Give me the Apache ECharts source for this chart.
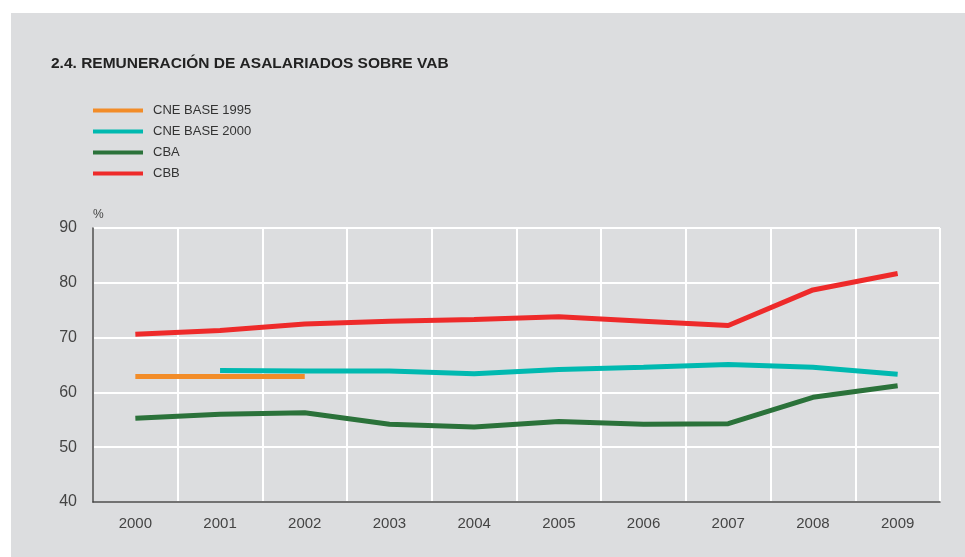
<!DOCTYPE html>
<html>
<head>
<meta charset="utf-8">
<script src="https://cdn.jsdelivr.net/npm/echarts@6/dist/echarts.min.js"></script>
<style>
body { margin: 0; background: #fff; }
#bg { position: absolute; left: 11px; top: 13px; right: 0; bottom: 0; background: #dcdddf; }
#chart { position: absolute; left: 0; top: 0; width: 965px; height: 557px; }
</style>
</head>
<body>
<div id="bg"></div>
<div id="chart"></div>
<script>
// años
var years = ['2000', '2001', '2002', '2003', '2004', '2005', '2006', '2007', '2008', '2009'];
// % remuneración sobre VAB
var cne1995 = [62.9, 62.9, 62.9, null, null, null, null, null, null, null];
var cne2000 = [null, 64.0, 63.9, 63.9, 63.4, 64.2, 64.6, 65.1, 64.6, 63.3];
var cba = [55.3, 56.0, 56.3, 54.2, 53.7, 54.7, 54.2, 54.3, 59.1, 61.2];
var cbb = [70.6, 71.3, 72.5, 73.0, 73.3, 73.8, 73.0, 72.2, 78.7, 81.7];

var myChart = echarts.init(document.getElementById('chart'));
var font = 'Liberation Sans, Arial, sans-serif';

function line(name, data, color) {
  return {
    name: name,
    type: 'line',
    data: data,
    symbol: 'none',
    connectNulls: false,
    color: color,
    lineStyle: { width: 5, color: color, cap: 'butt' }
  };
}

var option = {
  animation: false,
  textStyle: { fontFamily: font },
  title: {
    text: '2.4. REMUNERACIÓN DE ASALARIADOS SOBRE VAB',
    left: 46,
    top: 51,
    textStyle: { fontSize: 15.5, fontWeight: 'bold', color: '#222', fontFamily: font }
  },
  legend: {
    orient: 'vertical',
    left: 88,
    top: 99,
    icon: 'rect',
    itemWidth: 50,
    itemHeight: 4,
    itemGap: 8,
    textStyle: { fontSize: 13, color: '#333', fontFamily: font, padding: [0, 0, 0, 5] },
    data: ['CNE BASE 1995', 'CNE BASE 2000', 'CBA', 'CBB']
  },
  grid: { left: 93, right: 25, top: 228, bottom: 55 },
  xAxis: {
    type: 'category',
    data: years,
    boundaryGap: true,
    axisLine: { lineStyle: { color: '#444', width: 1.5 } },
    axisTick: { show: false },
    axisLabel: { fontSize: 15, color: '#444', margin: 14 },
    splitLine: { show: true, interval: 0, lineStyle: { color: '#fff', width: 2 } }
  },
  yAxis: {
    type: 'value',
    min: 40,
    max: 90,
    interval: 10,
    name: '%',
    nameLocation: 'end',
    nameGap: 7,
    nameTextStyle: { align: 'left', fontSize: 12, color: '#444' },
    axisLine: { show: true, lineStyle: { color: '#444', width: 1.5 } },
    axisTick: { show: false },
    axisLabel: { fontSize: 16, color: '#444', margin: 16 },
    splitLine: { lineStyle: { color: '#fff', width: 2 } }
  },
  series: [
    line('CNE BASE 1995', cne1995, '#f28c28'),
    line('CNE BASE 2000', cne2000, '#00b9b0'),
    line('CBA', cba, '#2b723a'),
    line('CBB', cbb, '#ee2a2a')
  ]
};

option && myChart.setOption(option);
</script>
</body>
</html>
